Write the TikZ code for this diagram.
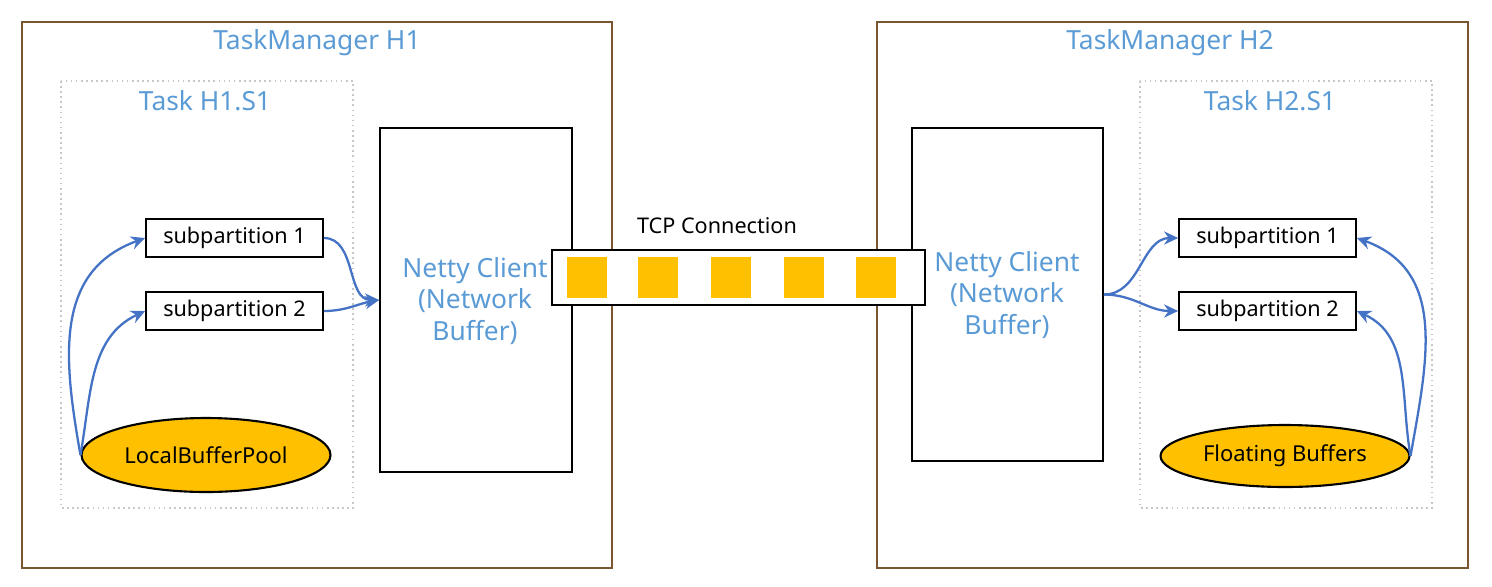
\documentclass[tikz,border=0pt]{standalone}
\usepackage{fontspec}
\setmainfont{Noto Sans}
\usepackage{tikz}
\usetikzlibrary{arrows.meta,shapes.geometric}

\definecolor{tmbrown}{RGB}{121,85,48}
\definecolor{titleblue}{RGB}{91,155,213}
\definecolor{arrowblue}{RGB}{68,114,196}
\definecolor{bufyellow}{RGB}{255,192,0}

\begin{document}
\begin{tikzpicture}[x=0.02cm,y=-0.02cm,
  title/.style={text=titleblue,font=\fontsize{15}{18}\selectfont},
  task/.style={draw=black!22,dotted,line width=0.9pt},
  sub/.style={draw,line width=1pt,minimum width=3.54cm,minimum height=0.76cm,font=\fontsize{12.3}{14}\selectfont},
  pool/.style={ellipse,draw,line width=1.2pt,fill=bufyellow,font=\fontsize{12.5}{15}\selectfont},
  buf/.style={fill=bufyellow,minimum width=0.8cm,minimum height=0.82cm,inner sep=0pt},
  flow/.style={draw=arrowblue,line width=1.3pt,-{Stealth[length=8pt,width=7.5pt]}}]
\useasboundingbox (0,0) rectangle (1492,586);

% TaskManager H1
\draw[tmbrown,line width=1.1pt] (22,22) rectangle (612,568);
\node[title] (tm1) at (317,43) {TaskManager H1};
\draw[task] (61,81) rectangle (353,508);
\node[title] (t1) at (205,101) {Task H1.S1};
\node[draw,line width=1pt,minimum width=3.84cm,minimum height=6.88cm] (nc1) at (476,300) {};
\node[title,align=center] (nc1txt) at (475,301) {Netty Client\\(Network\\Buffer)};
\node[sub] (sp11) at (234.5,238) {subpartition 1};
\node[sub] (sp12) at (234.5,311) {subpartition 2};
\node[pool,minimum width=4.98cm,minimum height=1.48cm] (lbp) at (206,455) {LocalBufferPool};

% TaskManager H2
\draw[tmbrown,line width=1.1pt] (877,22) rectangle (1468,568);
\node[title] (tm2) at (1170,43) {TaskManager H2};
\draw[task] (1140,81) rectangle (1432,508);
\node[title] (t2) at (1270,101) {Task H2.S1};
\node[draw,line width=1pt,minimum width=3.82cm,minimum height=6.66cm] (nc2) at (1007.5,294.5) {};
\node[title,align=center] (nc2txt) at (1007,295) {Netty Client\\(Network\\Buffer)};
\node[sub] (sp21) at (1267.5,238) {subpartition 1};
\node[sub] (sp22) at (1267.5,311) {subpartition 2};
\node[pool,minimum width=4.98cm,minimum height=1.24cm] (fb) at (1285,456) {Floating Buffers};

% TCP connection
\node[draw,fill=white,line width=1.1pt,minimum width=7.46cm,minimum height=1.1cm] (tcp) at (738.5,277.5) {};
\node[font=\fontsize{12.3}{14}\selectfont] (tcptxt) at (717,226) {TCP Connection};
\foreach \i/\x in {1/586.5,2/658,3/730.5,4/803.5,5/875.5}
  \node[buf] (b\i) at (\x,277.5) {};

% flows
\draw[flow] (lbp.west) to[out=100,in=200,looseness=1.1] (sp11.west);
\draw[flow] (lbp.west) to[out=80,in=205] (sp12.west);
\draw[flow] (sp11.east) to[out=0,in=180] (nc1.west);
\draw[flow] (sp12.east) to[out=0,in=190] (nc1.west);
\draw[flow] (nc2.east) to[out=0,in=180] (sp21.west);
\draw[flow] (nc2.east) to[out=0,in=180] (sp22.west);
\draw[flow] (fb.east) to[out=80,in=-20,looseness=1.1] (sp21.east);
\draw[flow] (fb.east) to[out=100,in=-25] (sp22.east);
\end{tikzpicture}
\end{document}
